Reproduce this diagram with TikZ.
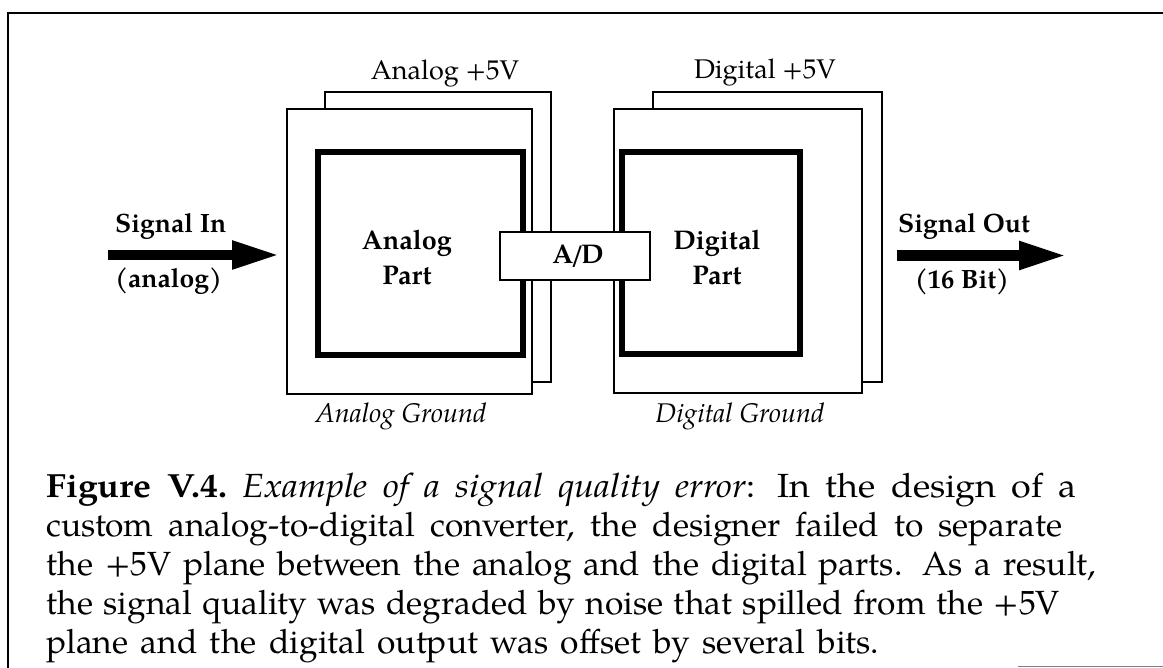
\documentclass[tikz,border=0pt]{standalone}
\usepackage{fontspec}
\setmainfont{TeX Gyre Pagella}
\usetikzlibrary{arrows.meta}
\begin{document}
\frenchspacing
\begin{tikzpicture}[x=1pt,y=-1pt,
  plane/.style={draw, fill=white, line width=2.6pt, inner sep=0pt},
  partbox/.style={draw, line width=5.5pt, inner sep=0pt},
  adbox/.style={draw, fill=white, line width=2.6pt, inner sep=0pt, font=\fontsize{27}{30}\selectfont\bfseries},
  lbl/.style={inner sep=0pt, font=\fontsize{27}{30}\selectfont},
  blbl/.style={inner sep=0pt, font=\fontsize{26.5}{30}\selectfont\bfseries},
  ilbl/.style={inner sep=0pt, font=\fontsize{27}{30}\selectfont\itshape},
  partlbl/.style={inner sep=0pt, align=center, font=\fontsize{27}{35}\selectfont\bfseries},
  caption/.style={inner sep=0pt, anchor=base west, font=\fontsize{33.5}{39}\selectfont},
  bigarrow/.style={line width=10.5pt, -{Triangle[length=48pt,width=26pt]}}]
\useasboundingbox (0,0) rectangle (1163,668);
\fill[white] (0,0) rectangle (1163,668);
% frame
\draw[line width=2.5pt] (8,668) -- (8,13) -- (1163,13);
\draw[gray, line width=1.5pt] (1018,666.5) -- (1163,666.5);
% analog planes
\node[plane, minimum width=226pt, minimum height=290pt] (aback) at (438,237) {};
\node[plane, minimum width=245pt, minimum height=285pt] (afront) at (409.5,251.5) {};
\node[partbox, minimum width=205pt, minimum height=203pt] (ainner) at (420.5,253.5) {};
% digital planes
\node[plane, minimum width=229pt, minimum height=290pt] (dback) at (767.5,237) {};
\node[plane, minimum width=248pt, minimum height=284pt] (dfront) at (738,251) {};
\node[partbox, minimum width=178pt, minimum height=202pt] (dinner) at (711,253) {};
% A/D
\node[adbox, minimum width=150pt, minimum height=48pt] (ad) at (575,256) {\hspace{6pt}A\kern-3pt/\kern-3pt D};
% labels
\node[lbl, anchor=base] (a5v) at (445,80) {Analog +5V};
\node[lbl, anchor=base] (d5v) at (765,79) {Digital +5V};
\node[partlbl] (apart) at (407,258) {Analog\\Part};
\node[partlbl] (dpart) at (717,258) {Digital\\Part};
\node[ilbl, anchor=base] (agnd) at (401,423) {Analog Ground};
\node[ilbl, anchor=base] (dgnd) at (740,423) {Digital Ground};
% signal in
\node[blbl, anchor=base west] (sin) at (115,233) {Signal In};
\node[blbl, anchor=base west] (sinsub) at (115,288) {(analog)};
\coordinate (sinA) at (108,255);
\coordinate (sinB) at (280,255);
\draw[bigarrow] (sinA) -- (sinB);
% signal out
\node[blbl, anchor=base west] (sout) at (898,233) {Signal Out};
\node[blbl, anchor=base] (soutsub) at (962,289) {(16 Bit)};
\coordinate (soutA) at (897,255.5);
\coordinate (soutB) at (1067,255.5);
\draw[bigarrow] (soutA) -- (soutB);
% caption
\node[caption] (cap1) at (46,497) {\scalebox{1.07}[1]{\makebox[963pt][s]{{\bfseries Figure V.4.} \textit{Example of a signal quality error}:\hspace{0.6em}In the design of a}}};
\node[caption] (cap2) at (46,536) {\makebox[1016pt][s]{custom analog-to-digital converter, the designer failed to separate}};
\node[caption] (cap3) at (46,575) {\makebox[1050pt][s]{the +5V plane between the analog and the digital parts.\hspace{0.6em}As a result,}};
\node[caption] (cap4) at (46,614) {\makebox[1014pt][s]{the signal quality was degraded by noise that spilled from the +5V}};
\node[caption] (cap5) at (46,653) {\makebox[833pt][s]{plane and the digital output was offset by several bits.}};
\end{tikzpicture}
\end{document}
